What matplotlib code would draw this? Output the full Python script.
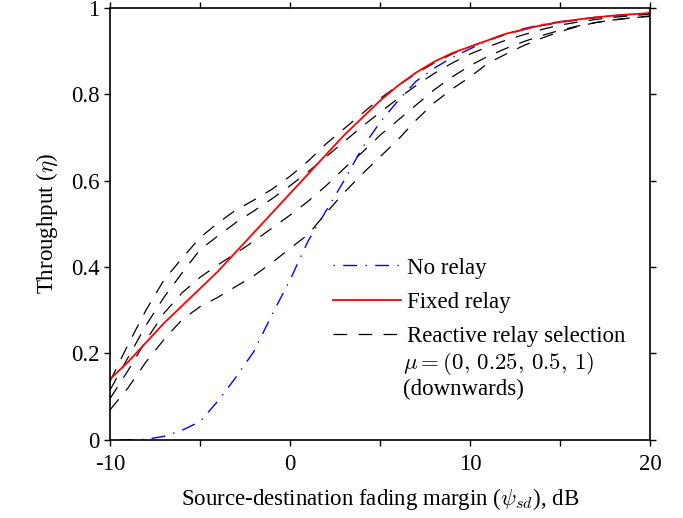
import numpy as np
import matplotlib
matplotlib.use('Agg')
import matplotlib.pyplot as plt
from matplotlib.ticker import MultipleLocator, FuncFormatter

plt.rcParams['font.family'] = ['Liberation Serif', 'DejaVu Serif']
plt.rcParams['mathtext.fontset'] = 'cm'

# fading margin in dB
psi = np.arange(-10, 21)

no_relay = [0.0, 0.0, 0.001, 0.008, 0.022, 0.042, 0.09, 0.145, 0.205, 0.29,
            0.37, 0.46, 0.53, 0.60, 0.675, 0.735, 0.785, 0.83, 0.86, 0.885,
            0.905, 0.925, 0.94, 0.952, 0.961, 0.968, 0.973, 0.978, 0.982, 0.985, 0.988]

fixed_relay = [0.14, 0.18, 0.225, 0.27, 0.31, 0.35, 0.39, 0.435, 0.48, 0.525,
               0.57, 0.615, 0.66, 0.705, 0.745, 0.785, 0.82, 0.85, 0.875, 0.895,
               0.91, 0.925, 0.94, 0.95, 0.96, 0.967, 0.973, 0.978, 0.982, 0.985, 0.988]

# reactive relay selection, mu = 0, 0.25, 0.5, 1
reactive_mu0 = [0.135, 0.22, 0.30, 0.37, 0.42, 0.468, 0.502, 0.532, 0.555, 0.58,
                0.61, 0.645, 0.685, 0.72, 0.755, 0.79, 0.82, 0.848, 0.872, 0.893,
                0.91, 0.925, 0.938, 0.95, 0.959, 0.966, 0.972, 0.977, 0.981, 0.984, 0.987]
reactive_mu025 = [0.115, 0.19, 0.265, 0.33, 0.386, 0.44, 0.472, 0.503, 0.53, 0.558,
                  0.588, 0.62, 0.655, 0.69, 0.725, 0.758, 0.79, 0.82, 0.848, 0.872,
                  0.893, 0.91, 0.925, 0.938, 0.95, 0.96, 0.967, 0.973, 0.978, 0.982, 0.985]
reactive_mu05 = [0.095, 0.16, 0.23, 0.293, 0.34, 0.376, 0.405, 0.432, 0.46, 0.49,
                 0.52, 0.552, 0.588, 0.628, 0.665, 0.705, 0.74, 0.775, 0.81, 0.84,
                 0.866, 0.888, 0.906, 0.922, 0.936, 0.948, 0.958, 0.966, 0.972, 0.977, 0.981]
reactive_mu1 = [0.069, 0.12, 0.18, 0.232, 0.278, 0.308, 0.33, 0.355, 0.38, 0.41,
                0.443, 0.475, 0.525, 0.572, 0.615, 0.655, 0.695, 0.74, 0.78, 0.812,
                0.84, 0.872, 0.893, 0.913, 0.93, 0.945, 0.957, 0.966, 0.972, 0.977, 0.98]

fs = 16.5

fig = plt.figure(figsize=(6.83, 5.18), dpi=100)
ax = fig.add_axes([0.161, 0.151, 0.791, 0.834])

dash = (0, (11, 9))
for i, r in enumerate([reactive_mu0, reactive_mu025, reactive_mu05, reactive_mu1]):
    ax.plot(psi, r, color='black', lw=0.9, linestyle=dash,
            label='Reactive relay selection' if i == 0 else None)
ax.plot(psi, no_relay, color='#0000ff', lw=1.0, linestyle=(16, (10, 6, 1, 6)), label='No relay')
ax.plot(psi, fixed_relay, color='#ff0000', lw=1.3, label='Fixed relay')

ax.set_xlim(-10, 20)
ax.set_ylim(0, 1)
ax.xaxis.set_major_locator(MultipleLocator(5))
ax.xaxis.set_major_formatter(FuncFormatter(lambda v, p: '%d' % v if v % 10 == 0 else ''))
ax.yaxis.set_major_locator(MultipleLocator(0.2))
ax.yaxis.set_major_formatter(FuncFormatter(lambda v, p: '%g' % round(v, 1)))
ax.tick_params(direction='out', length=4, width=1, top=True, right=True, labelsize=fs)
ax.tick_params(axis='x', pad=6)
for s in ax.spines.values():
    s.set_linewidth(1.2)

ax.set_xlabel(r'Source-destination fading margin ($\psi_{sd}$), dB', fontsize=fs, labelpad=8)
ax.set_ylabel(r'Throughput ($\eta$)', fontsize=fs, labelpad=8)

h, l = ax.get_legend_handles_labels()
order = [1, 2, 0]
ax.legend([h[k] for k in order], [l[k] for k in order], loc='upper left',
          bbox_to_anchor=(0.413, 0.422), frameon=False, fontsize=fs,
          borderpad=0, borderaxespad=0, handlelength=2.95, handletextpad=0.26,
          labelspacing=0.58)
ax.text(0.543, 0.176, r'$\mu = (0,\, 0.25,\, 0.5,\, 1)$', transform=ax.transAxes,
        fontsize=fs, va='center', ha='left')
ax.text(0.543, 0.117, '(downwards)', transform=ax.transAxes,
        fontsize=fs, va='center', ha='left')

fig.savefig('out.png', dpi=100)
